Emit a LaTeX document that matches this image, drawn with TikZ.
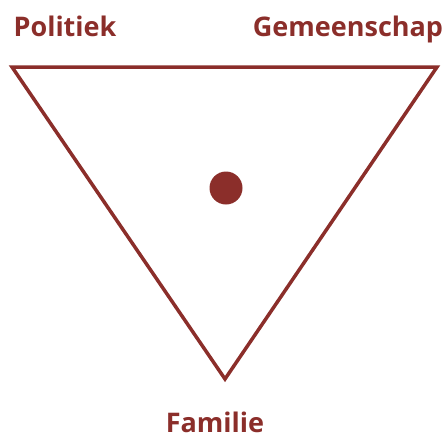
\documentclass[tikz,border=0pt]{standalone}
\usepackage{fontspec}
\setmainfont{Open Sans}
\definecolor{tred}{HTML}{8B2E2A}
\begin{document}
\begin{tikzpicture}[x=1pt,y=-1pt,
  lbl/.style={text=tred,font=\fontsize{27}{30}\selectfont\bfseries,anchor=base,inner sep=0pt},
  tri/.style={draw=tred,line width=3.5pt,miter limit=20}]
\useasboundingbox (0,0) rectangle (447,437);
\coordinate (tl) at (12,67);
\coordinate (tr) at (437,67);
\coordinate (bt) at (225,379);
\draw[tri] (tl) -- (tr) -- (bt) -- cycle;
\node[circle,fill=tred,minimum size=33pt,inner sep=0pt] (dot) at (226,188) {};
\node[lbl] (pol) at (65,36) {Politiek};
\node[lbl] (gem) at (348,36) {Gemeenschap};
\node[lbl] (fam) at (215,432) {Familie};
\end{tikzpicture}
\end{document}
